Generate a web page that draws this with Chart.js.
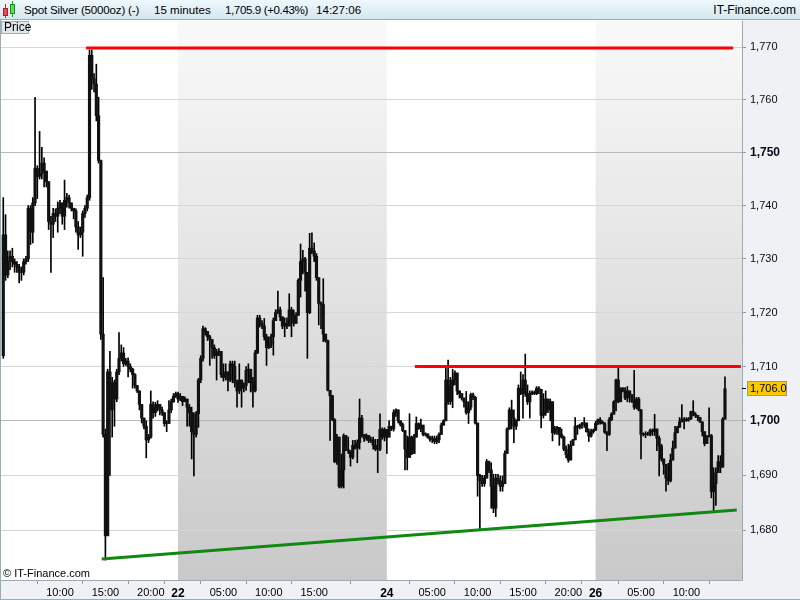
<!DOCTYPE html>
<html>
<head>
<meta charset="utf-8">
<script src="https://cdn.jsdelivr.net/npm/chart.js@4.4.1/dist/chart.umd.min.js"></script>
<style>
  html, body { margin:0; padding:0; background:#fff; width:800px; height:600px; overflow:hidden; }
  #wrap { position:relative; width:800px; height:600px; font-family:"Liberation Sans", Arial, sans-serif; }
  canvas { position:absolute; left:0; top:0; }
  #hdr { position:absolute; left:0; top:0; width:800px; height:20px; background:linear-gradient(#eef8fc,#d5e7ee); border-bottom:1px solid #9aabb7; box-sizing:border-box; }
  .ht { position:absolute; top:3px; font-size:11.6px; color:#000; white-space:nowrap; line-height:14px; }
  #price { position:absolute; left:1px; top:21px; width:28px; height:13px; background:#dfe6ec; border:1px solid #9fb0bc; box-sizing:border-box; font-size:12px; line-height:11px; padding-left:2px; color:#000; }
  #copy { position:absolute; left:3px; top:567px; font-size:11px; color:#000; white-space:nowrap; }
  .cdl { position:absolute; border:1px solid; box-sizing:border-box; }
</style>
</head>
<body>
<div id="wrap">
<canvas id="c" width="800" height="600"></canvas>
<div id="hdr">
  <div style="position:absolute;left:5px;top:4px;width:1px;height:14px;background:#b33;"></div>
  <div class="cdl" style="left:3px;top:8px;width:5px;height:8px;background:#e94a4a;border-color:#a22;"></div>
  <div style="position:absolute;left:12px;top:1px;width:1px;height:16px;background:#2a2;"></div>
  <div class="cdl" style="left:10px;top:4px;width:5px;height:10px;background:#5be05b;border-color:#1a8a1a;"></div>
  <div class="ht" style="left:24px;letter-spacing:-0.2px">Spot Silver (5000oz) (-)</div>
  <div class="ht" style="left:154px">15 minutes</div>
  <div class="ht" style="left:225px;letter-spacing:-0.4px">1,705.9 (+0.43%)</div>
  <div class="ht" style="left:316px">14:27:06</div>
  <div class="ht" style="right:4px;font-size:12px">IT-Finance.com</div>
</div>
<div id="price">Price</div>
<div id="copy">© IT-Finance.com</div>
</div>
<script>
// ---- sessions / time axis ----
const sessionDays  = ['21', '22', '24', '26'];
const sessionOpen  = ['03:45', '00:00', '00:00', '00:00'];
const sessionClose = ['22:45', '22:45', '22:45', '14:15'];
const xTickLabels = ['21 10:00','21 15:00','21 20:00','22 00:00','22 05:00','22 10:00','22 15:00',
  '24 00:00','24 05:00','24 10:00','24 15:00','24 20:00','26 00:00','26 05:00','26 10:00'];
const yTickValues = [1680,1690,1700,1710,1720,1730,1740,1750,1760,1770];
const yMajor = [1700, 1750];

// ---- 15-minute bars (first bar open, then close/high/low per bar) ----
const firstOpen = 1712;
const close = [
1734.5,1727,1729.5,1730.5,1729.5,1729,1728.5,1727.5,1727.5,1729.5,
1730,1739.5,1735,1740.5,1747,1745.5,1746,1748,1746.5,1744.5,
1737,1736.5,1738.5,1738,1739.5,1740.5,1738,1741,1741.5,1740.5,
1739.5,1739,1736,1734.5,1735,1738.5,1739.5,1741.5,1768.5,1764,
1763,1757,1748.5,1716,1697.5,1679,1709,1702,1707,1704,
1709,1711.5,1712.5,1710.5,1711,1710,1709.5,1708.5,1706.5,1705.5,
1703,1700.5,1699,1696.5,1697,1703,1701.5,1702.5,1703,1702,
1701.5,1699.5,1699.5,1702,1703.5,1704.5,1705,1704,1704.5,1703.5,
1704,1702.5,1701.5,1698,1697.5,1701.3,1707.5,1711.5,1717,1716.5,
1715.5,1715,1713.5,1712,1712.5,1712.8,1708.5,1708,1709,1707.5,
1710.5,1710,1707,1705.5,1707.5,1706,1706.5,1709.3,1709.5,1707,
1705.5,1712.5,1719,1718,1717.5,1715.5,1713.5,1714,1715.5,1718.5,
1720,1720.5,1719.2,1717.5,1718,1717.5,1720.5,1719.5,1718,1719.5,
1726,1729.5,1730,1727.5,1720,1732,1731.5,1730.5,1726.5,1721.7,
1721.5,1716,1714.8,1705.6,1704.6,1700.2,1692.5,1697,1688,1691,
1697.3,1694.7,1694.5,1693.3,1695.5,1695,1696,1700.5,1697.5,1696.8,
1697.3,1696.4,1696.5,1695.5,1694.8,1694.8,1698.4,1697,1698.4,1697,
1699,1698.5,1701.5,1702,1700,1699.3,1698.2,1694.8,1693.3,1697,
1694,1697,1699.5,1698.6,1699.2,1697.5,1697.6,1697,1696.6,1696.8,
1696.2,1696.5,1697.5,1699.2,1700,1707.5,1703.5,1706.5,1707.5,1708.8,
1705.5,1705,1704.2,1703.5,1701.5,1702.5,1704.8,1704.3,1699.6,1690,
1689,1688.5,1689.5,1692.5,1691,1688,1684,1689.5,1689,1688,
1688.5,1694,1698.5,1702,1700.5,1699,1700,1706,1705,1707.5,
1705,1703.5,1705,1705.2,1705,1706,1705.8,1701,1701.5,1704,
1702,1703.5,1697.8,1698.5,1698.8,1697.5,1697,1694.8,1693.8,1692.8,
1695.5,1696.5,1699,1698.8,1699.2,1699.5,1699.6,1698,1697.2,1698,
1698.3,1699.5,1700.2,1699.8,1699.5,1697.9,1697.5,1700.2,1701.2,1703.5,
1707.5,1703.5,1706,1705.6,1704.2,1705.5,1704.8,1703.6,1702.5,1704,
1702,1697.5,1697.6,1697.5,1697.6,1698.2,1698,1698.5,1696.8,1695.4,
1693,1692,1689.5,1689,1692.8,1695,1697.8,1698.8,1699.8,1700.3,
1700,1700.2,1700.4,1701.7,1701.2,1701,1700.6,1699.8,1698,1695.8,
1697.1,1697.3,1687,1688.5,1690.5,1692.5,1691.5,1700.3,1705.9];
const high = [
1741.5,1738.3,1731.5,1731.5,1732,1730,1729.5,1729,1728.5,1730,
1730.5,1740,1740,1741.5,1760.5,1747.5,1754,1751,1749,1746.5,
1744.5,1738,1739.5,1739.4,1740.7,1741,1740.4,1744.8,1742.3,1742,
1740.5,1739.5,1739.4,1737,1736,1739,1740,1742,1769.5,1769.5,
1765,1766.8,1760.5,1748.6,1726.5,1698.5,1709.5,1712.8,1708,1707.5,
1709.5,1716.3,1714,1713.5,1711.5,1711.6,1710.5,1709.7,1708.7,1706.5,
1705.5,1703,1700.5,1700,1697.5,1705.5,1703.5,1703.4,1703.7,1703,
1702.5,1701.5,1700,1703.7,1704,1705,1705.3,1705.3,1705,1704.4,
1704.4,1704,1703,1702.5,1701.5,1701.7,1707.8,1712,1717.5,1717.2,
1716.2,1715.8,1715,1714,1713.2,1713.3,1712.8,1710.5,1710.5,1709,
1711,1711,1711,1707.5,1710.5,1707.5,1707,1710,1710.5,1709.5,
1708,1713,1719.5,1719.5,1718.5,1718.9,1716,1715.5,1716,1719,
1720.5,1724,1721,1719.2,1719,1719,1723.5,1721,1720.5,1720,
1726.3,1732.8,1731.6,1730.3,1727.2,1734.8,1734.9,1733,1731,1726.5,
1722,1726.3,1716,1714.9,1705.6,1704.7,1700.4,1697.5,1697,1693.9,
1697.6,1697.3,1697,1694.5,1696.4,1696.4,1696.5,1704,1701,1697.5,
1697.6,1697.3,1697,1697,1696.6,1696.6,1701.3,1698.7,1698.7,1698.4,
1700,1699,1702,1702.2,1702,1699.8,1699.6,1698,1697.2,1701.3,
1697.2,1697.5,1700.7,1699.6,1700.3,1698,1697.8,1697.5,1697.2,1697.2,
1697.2,1697.2,1697.8,1699.6,1700.2,1709.7,1711.2,1708,1709.5,1709.2,
1708.8,1705.5,1705,1704.2,1705.4,1703.5,1705.1,1705.1,1704.5,1699.6,
1690.2,1690,1690,1692.9,1692.6,1692.3,1690.2,1690.2,1690.2,1689.9,
1689.9,1694.5,1698.7,1702.4,1703.8,1702,1700.2,1706.6,1709,1708.5,
1712.3,1706.6,1705.5,1705.5,1705.5,1706.3,1706.3,1705.8,1705,1705.5,
1704,1704,1703.5,1699,1699,1698.8,1698.5,1697.2,1695.4,1695.7,
1696.3,1696.6,1700.6,1699.2,1699.4,1699.7,1700.6,1699.6,1698.5,1698.5,
1698.5,1699.9,1700.3,1700.6,1700,1699.7,1698,1700.6,1701.5,1703.7,
1707.7,1709.7,1706.1,1706.1,1706.1,1706.3,1705.5,1704.8,1709.3,1704.3,
1704.3,1702.1,1697.8,1698,1697.9,1698.5,1698.5,1701.2,1698.5,1697.2,
1695.7,1693,1692,1692.2,1693.9,1696.3,1699,1699,1700.6,1703,
1700.6,1700.6,1700.6,1701.8,1703.7,1701.5,1701,1700.6,1699.8,1698,
1697.3,1702.4,1697.5,1691.4,1691.4,1693.6,1693.6,1700.6,1708.1];
const low = [
1711.5,1726,1726.5,1728,1728.5,1727.5,1727.5,1725.5,1726,1727,
1729,1729.5,1732.7,1733,1740,1741.3,1745,1745,1743.5,1743.5,
1735.5,1727.5,1734,1737,1735,1738.5,1736.5,1735.5,1739.7,1739.5,
1739,1737.5,1735,1731.8,1734,1730.5,1737.8,1739,1741,1762,
1761.5,1756,1748,1715,1697,1674.6,1679,1690,1697,1699,
1703.5,1708.5,1711,1710,1710.2,1708.1,1709,1706,1706,1705.2,
1702,1699.6,1698.5,1693.2,1696,1696.8,1700.5,1700.8,1701.8,1701.1,
1701,1699,1698,1699.5,1701.5,1703.4,1704.3,1703.4,1703.7,1702.8,
1703.5,1699,1699,1693,1689.9,1697,1698.8,1707,1711,1715.8,
1714.8,1710.2,1711.5,1711.5,1707.5,1712,1708,1707.3,1707.5,1705.5,
1707.2,1707,1706.2,1702.5,1705,1702.5,1705.3,1705.6,1707,1705.3,
1702.5,1705.3,1712.4,1717.3,1717,1714.9,1710.2,1713.3,1713.5,1712.1,
1718.5,1719.8,1718.5,1717,1715.5,1717,1717.5,1715.5,1717.5,1718.5,
1719.5,1722.9,1727.2,1724,1711.5,1719.8,1731,1729.5,1726,1717.7,
1717,1714.6,1714.5,1705.5,1696.4,1700,1692.3,1692,1687.7,1687.7,
1687.7,1694.5,1694,1691.7,1693,1694.8,1692.3,1694.8,1697,1696.2,
1696.4,1696,1696,1694.8,1694.5,1690.5,1694.5,1696.6,1696.3,1694,
1698.4,1698.2,1698.1,1700.8,1699.6,1699,1698,1691,1691,1693.8,
1693.8,1694,1698.4,1698.4,1698,1697.2,1697.2,1696.8,1696.2,1696,
1695.8,1695.8,1696,1697.5,1699.6,1700.2,1703,1703,1702.4,1706.6,
1704.8,1704.2,1703.8,1702.5,1701.2,1699.5,1702,1703.9,1699.4,1686.2,
1680.2,1688,1688,1689.5,1690.5,1684,1683.2,1682.5,1688.4,1687.1,
1687.1,1688.5,1694,1698.4,1698.5,1696,1698.4,1700,1704.8,1700.5,
1704.5,1703,1700.5,1704.8,1704.8,1704.8,1705,1698.7,1700.5,1701,
1701.5,1700,1696.3,1697.5,1697.5,1695.5,1696.8,1694.5,1693.2,1692.4,
1692.8,1695.5,1696.5,1697.5,1698.5,1698.6,1698.8,1697.9,1696.2,1697,
1697.7,1698.2,1699.3,1699.4,1699.4,1697.7,1694.5,1697.3,1700,1701.2,
1701.8,1703.3,1703.5,1705.3,1703.9,1703.5,1703.4,1703.4,1702.1,1702.2,
1701.8,1693,1697.2,1696.9,1697.3,1697.2,1697.3,1697.3,1694.5,1689.9,
1692.6,1690.2,1687.1,1688.3,1688.8,1692.8,1695,1697.8,1698.8,1699.8,
1698.5,1699.9,1699.9,1700.2,1700.9,1700.6,1700,1699.7,1697.2,1695.4,
1695.8,1697,1685.9,1683.6,1684.5,1690.5,1690.5,1691.5,1700.3];

// ---- drawn trend lines (bar index, price) ----
const resistanceHighX = [36.5, 321.6], resistanceHighY = [1769.9, 1769.9];
const resistanceLowX  = [181.4, 325.0], resistanceLowY  = [1710, 1710];
const supportX = [43.4, 323.2], supportY = [1674.8, 1683.7];
const lastPriceTag = 1706.0;

// ---- build bar times ----
function toMin(s){ const p = s.split(':'); return (+p[0])*60 + (+p[1]); }
function fmt(m){ const h = Math.floor(m/60), mm = m%60; return String(h).padStart(2,'0')+':'+String(mm).padStart(2,'0'); }
const barTimes = [];
const sessionStartIdx = [];
sessionDays.forEach((d, k) => {
  sessionStartIdx.push(barTimes.length);
  for (let m = toMin(sessionOpen[k]); m <= toMin(sessionClose[k]); m += 15) barTimes.push(d + ' ' + fmt(m));
});
const xTickIdx = xTickLabels.map(l => barTimes.indexOf(l)).filter(i => i >= 0);
const tickText = {};
xTickIdx.forEach(i => { const [d, t] = barTimes[i].split(' '); tickText[i] = t === '00:00' ? d : t; });

const wickData = [], bodyData = [];
close.forEach((c, i) => {
  const o = i === 0 ? firstOpen : close[i-1];
  wickData.push({x:i, y:[Math.min(low[i], o, c), Math.max(high[i], o, c)]});
  bodyData.push({x:i, y:[Math.min(o, c), Math.max(o, c)]});
});
const pts = (xs, ys) => xs.map((x, k) => ({x, y: ys[k]}));

const FONT = '"Liberation Sans", Arial, sans-serif';

const bgPlugin = {
  id: 'bg',
  beforeDraw(chart) {
    const {ctx, chartArea: a, scales: {x}} = chart;
    ctx.save();
    ctx.fillStyle = '#ffffff';
    ctx.fillRect(a.left, a.top, a.right - a.left, a.bottom - a.top);
    const g = ctx.createLinearGradient(0, a.top, 0, a.bottom);
    g.addColorStop(0, '#f9f9f9');
    g.addColorStop(1, '#c9c9c9');
    ctx.fillStyle = g;
    sessionStartIdx.forEach((s, k) => {
      if (k % 2 === 1) {
        const x0 = x.getPixelForValue(s);
        const x1 = k + 1 < sessionStartIdx.length ? x.getPixelForValue(sessionStartIdx[k+1]) : a.right;
        ctx.fillRect(x0, a.top, x1 - x0, a.bottom - a.top);
      }
    });
    ctx.fillStyle = '#eff1f4';
    ctx.fillRect(a.right, a.top - 1, chart.width - a.right, chart.height - a.top + 1);
    ctx.fillRect(0, a.bottom, chart.width, chart.height - a.bottom);
    ctx.restore();
  },
  afterDraw(chart) {
    const {ctx, chartArea: a, scales: {y}} = chart;
    ctx.save();
    ctx.strokeStyle = '#9aabb8';
    ctx.lineWidth = 1;
    ctx.beginPath();
    ctx.moveTo(0.5, 20); ctx.lineTo(0.5, 600);
    ctx.moveTo(0, 599.5); ctx.lineTo(800, 599.5);
    ctx.stroke();
    const py = Math.round(y.getPixelForValue(lastPriceTag));
    ctx.strokeStyle = '#000';
    ctx.beginPath(); ctx.moveTo(a.right, py + 0.5); ctx.lineTo(a.right + 4, py + 0.5); ctx.stroke();
    ctx.fillStyle = '#f8c800';
    ctx.fillRect(a.right + 5, py - 7, 40, 15);
    ctx.strokeStyle = '#8c9aa6';
    ctx.strokeRect(a.right + 5.5, py - 6.5, 39, 14);
    ctx.fillStyle = '#000';
    ctx.font = '11px ' + FONT;
    ctx.textBaseline = 'middle';
    ctx.textAlign = 'left';
    ctx.fillText(lastPriceTag.toLocaleString('en-US', {minimumFractionDigits:1, maximumFractionDigits:1}), a.right + 8, py + 1);
    ctx.restore();
  }
};

new Chart(document.getElementById('c'), {
  data: {
    datasets: [
      { type:'bar', data: wickData, backgroundColor:'#000', barThickness:1, grouped:false, order:3 },
      { type:'bar', data: bodyData, backgroundColor:'#111', barThickness:2.5, grouped:false, order:2 },
      { type:'line', data: pts(resistanceHighX, resistanceHighY), borderColor:'#ff0000', borderWidth:3, pointRadius:0, order:1 },
      { type:'line', data: pts(resistanceLowX, resistanceLowY), borderColor:'#ff0000', borderWidth:3, pointRadius:0, order:1 },
      { type:'line', data: pts(supportX, supportY), borderColor:'#118811', borderWidth:3, pointRadius:0, order:1 }
    ]
  },
  options: {
    responsive:false, animation:false, devicePixelRatio:1,
    layout: { padding: { top:21, left:1, right:0, bottom:0 } },
    plugins: { legend:{display:false}, tooltip:{enabled:false} },
    scales: {
      x: {
        type:'linear', min:-1, max:325.5, offset:false,
        afterBuildTicks: s => { s.ticks = xTickIdx.map(v => ({value:v})); },
        afterFit: s => { s.height = 20; },
        grid: { drawOnChartArea:false, drawTicks:true, tickLength:4, tickColor:'#8d9eab' },
        border: { color:'#9aabb8' },
        ticks: {
          autoSkip:false, maxRotation:0, minRotation:0, padding:2, color:'#000',
          font: ctx => (ctx.tick && /^\d\d$/.test(tickText[ctx.tick.value])) ? {family:FONT, size:12, weight:'bold'} : {family:FONT, size:11},
          callback: v => tickText[v] !== undefined ? tickText[v] : ''
        }
      },
      y: {
        type:'logarithmic', position:'right', min:1671.0, max:1775.06,
        afterBuildTicks: s => { s.ticks = yTickValues.map(v => ({value:v})); },
        afterFit: s => { s.width = 58; },
        grid: {
          color: ctx => (ctx.tick && yMajor.includes(ctx.tick.value)) ? '#b8b8b8' : '#d6d6d6',
          tickLength:4, tickColor:'#8d9eab'
        },
        border: { color:'#9aabb8' },
        ticks: {
          padding:4, color:'#0a0a1e',
          font: ctx => (ctx.tick && yMajor.includes(ctx.tick.value)) ? {family:FONT, size:12, weight:'bold'} : {family:FONT, size:11},
          callback: v => v.toLocaleString('en-US')
        }
      }
    }
  },
  plugins: [bgPlugin]
});
</script>
</body>
</html>
